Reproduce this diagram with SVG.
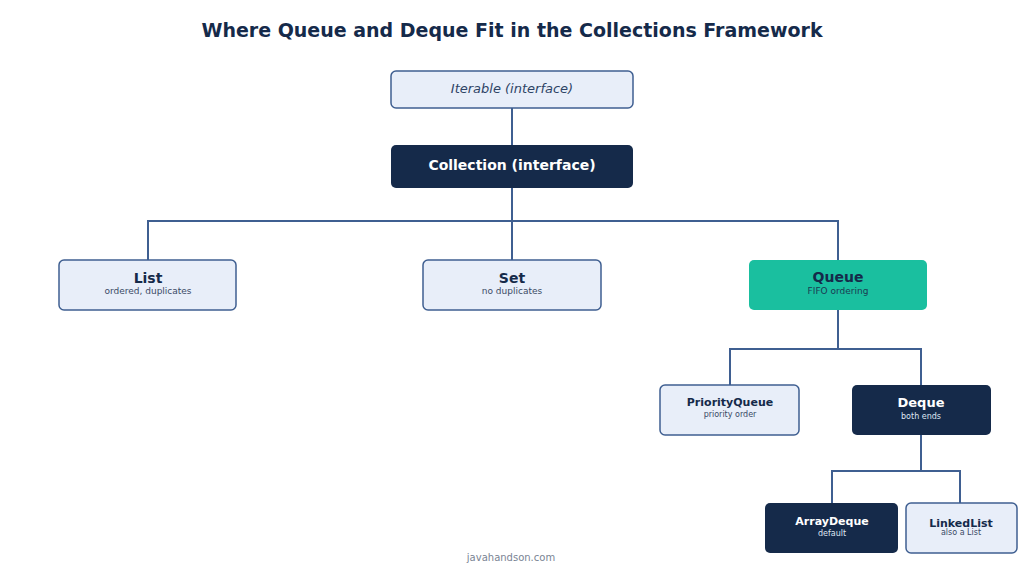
<svg xmlns="http://www.w3.org/2000/svg" width="1024" height="576" viewBox="0 0 1024 576">
<style>
text{font-family:"DejaVu Sans","Liberation Sans",sans-serif;text-anchor:middle}
.l{fill:#e8eef9;stroke:#3f5f91;stroke-width:1.5}
.d{fill:#152a4a}
.t{fill:#1abf9f}
.c{fill:none;stroke:#3f5f91;stroke-width:2}
.tl{fill:#152a4a;font-weight:bold}
.tw{fill:#ffffff;font-weight:bold}
.sl{fill:#3a4a66}
.sw{fill:#dfe6f2}
</style>
<rect width="1024" height="576" fill="#ffffff"/>
<text x="512" y="37" font-size="19" font-weight="bold" fill="#152a4a">Where Queue and Deque Fit in the Collections Framework</text>
<g id="connectors">
<path class="c" d="M512 108V145M512 188V260M148 260V221H838V260M838 310V349M730 385V349H921V385M921 435V471M832 503V471H960V503"/>
</g>
<g id="iterable"><rect class="l" x="391" y="71" width="242" height="37" rx="5"/><text x="512" y="93" font-size="13" font-style="italic" fill="#2e4466">Iterable (interface)</text></g>
<g id="collection"><rect class="d" x="391" y="145" width="242" height="43" rx="5"/><text class="tw" x="512" y="170" font-size="14">Collection (interface)</text></g>
<g id="list"><rect class="l" x="59" y="260" width="177" height="50" rx="5"/><text class="tl" x="148" y="283" font-size="14">List</text><text class="sl" x="148" y="294" font-size="9">ordered, duplicates</text></g>
<g id="set"><rect class="l" x="423" y="260" width="178" height="50" rx="5"/><text class="tl" x="512" y="283" font-size="14">Set</text><text class="sl" x="512" y="294" font-size="9">no duplicates</text></g>
<g id="queue"><rect class="t" x="749" y="260" width="178" height="50" rx="5"/><text class="tl" x="838" y="282" font-size="14">Queue</text><text x="838" y="294" font-size="9" fill="#1c3a52">FIFO ordering</text></g>
<g id="priorityqueue"><rect class="l" x="660" y="385" width="139" height="50" rx="5"/><text class="tl" x="730" y="406" font-size="11">PriorityQueue</text><text class="sl" x="730" y="417" font-size="8">priority order</text></g>
<g id="deque"><rect class="d" x="852" y="385" width="139" height="50" rx="5"/><text class="tw" x="921" y="407" font-size="13">Deque</text><text class="sw" x="921" y="419" font-size="8">both ends</text></g>
<g id="arraydeque"><rect class="d" x="765" y="503" width="133" height="50" rx="5"/><text class="tw" x="832" y="525" font-size="11">ArrayDeque</text><text class="sw" x="832" y="536" font-size="8">default</text></g>
<g id="linkedlist"><rect class="l" x="906" y="503" width="111" height="50" rx="5"/><text class="tl" x="961" y="527" font-size="11">LinkedList</text><text class="sl" x="961" y="535" font-size="8">also a List</text></g>
<text x="511" y="561" font-size="10" fill="#7a8494">javahandson.com</text>
</svg>
